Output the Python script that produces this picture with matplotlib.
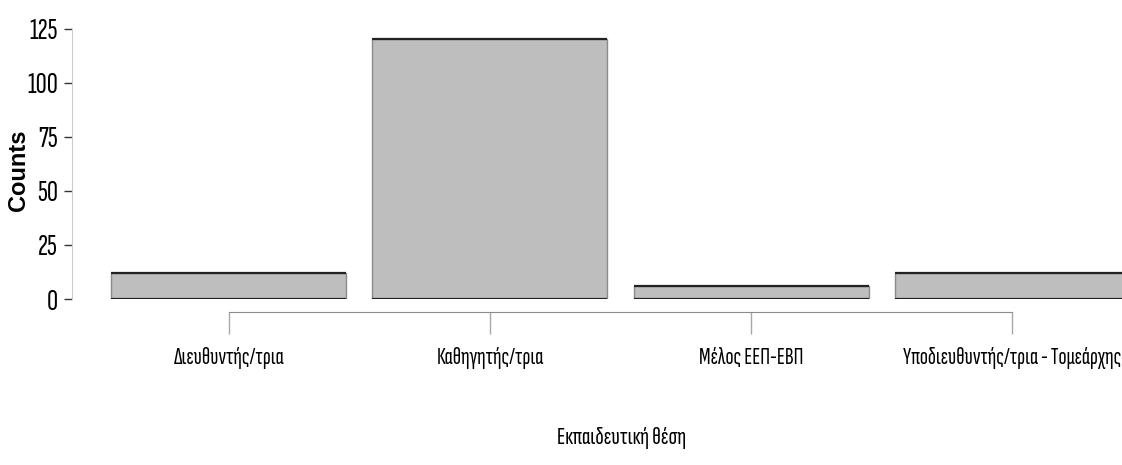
import matplotlib
matplotlib.use("Agg")
import matplotlib.pyplot as plt
import numpy as np

# Bar counts per teaching position
positions = ["Διευθυντής/τρια", "Καθηγητής/τρια", "Μέλος ΕΕΠ-ΕΒΠ",
             "Υποδιευθυντής/τρια - Τομεάρχης"]
counts = [12, 120, 6, 12]
y_ticks = [0, 25, 50, 75, 100, 125]

narrow = ["Sofia Sans Extra Condensed", "DejaVu Sans"]

fig = plt.figure(figsize=(11.22, 4.65), dpi=100)
ax = fig.add_axes([72 / 1122, 166 / 465, 1 - 72 / 1122, 270.5 / 465])

x = np.arange(len(positions))
ax.bar(x, counts, width=0.9, color="#bebebe", edgecolor="#8a8a8a", linewidth=1.0)
# darker top and bottom edges of each bar
ax.hlines(counts, x - 0.45, x + 0.45, color="#222222", linewidth=1.6)
ax.hlines(np.zeros(len(x)), x - 0.45, x + 0.45, color="#222222", linewidth=1.6)
ax.set_xlim(-0.6, 3.42)
ax.set_ylim(0, 125)

for s in ["top", "right"]:
    ax.spines[s].set_visible(False)
ax.spines["left"].set_bounds(0, 125)
ax.spines["left"].set_color("#cccccc")
ax.spines["bottom"].set_position(("outward", 9.4))
ax.spines["bottom"].set_bounds(0, 3)
ax.spines["bottom"].set_color("#8c8c8c")

ax.set_yticks(y_ticks)
ax.set_yticklabels([str(v) for v in y_ticks], family=narrow, fontsize=22)
ax.set_xticks(x)
ax.set_xticklabels(positions, family=narrow, fontsize=17.2)
ax.tick_params(axis="y", length=6, width=1, color="#333333", pad=4)
ax.tick_params(axis="x", length=16, width=1, color="#a8a8a8", pad=9)

ax.set_ylabel("Counts", fontsize=17, fontweight="bold", family="Liberation Sans",
              va="center")
ax.yaxis.set_label_coords(-0.0514, 0.477)
ax.set_xlabel("Εκπαιδευτική θέση", family=narrow, fontsize=18, va="center")
ax.xaxis.set_label_coords(0.523, -0.514)

fig.savefig("out.png", dpi=100)
